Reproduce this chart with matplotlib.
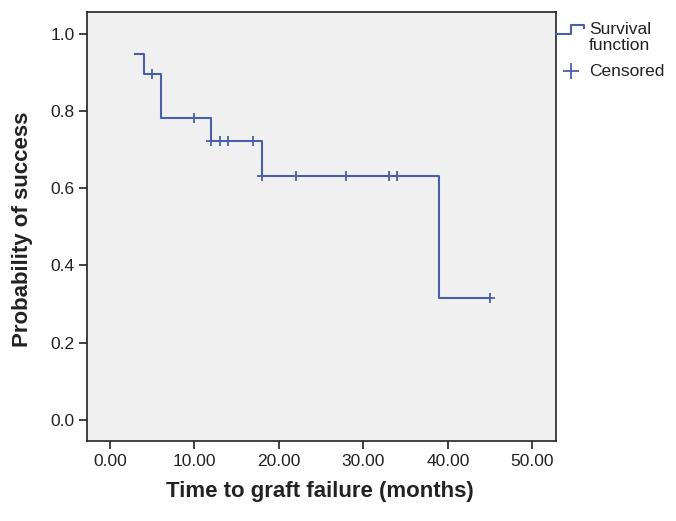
import numpy as np
import matplotlib.pyplot as plt
from matplotlib.lines import Line2D

plt.rcParams['font.family'] = ['Liberation Sans', 'DejaVu Sans']

# survival steps (time of event, survival after it)
step_time = [3, 4, 6, 12, 18, 39, 45]
step_surv = [0.947, 0.895, 0.783, 0.723, 0.633, 0.316, 0.316]
# censored cases
cens_time = [5, 10, 12, 13, 14, 17, 18, 22, 28, 33, 34, 45]
xticks = [0, 10, 20, 30, 40, 50]
yticks = [0.0, 0.2, 0.4, 0.6, 0.8, 1.0]

col = '#4a5fa8'
txt = '#222222'

fig = plt.figure(figsize=(6.76, 5.21), dpi=100)
ax = fig.add_axes([87/676, 80/521, 469/676, 429/521])
ax.set_facecolor('#f0f0f0')

ax.step(step_time, step_surv, where='post', color=col, lw=1.5)
# censored marks sit on the curve
cens_y = [step_surv[np.searchsorted(step_time, t, side='right') - 1] for t in cens_time]
ax.plot(cens_time, cens_y, ls='none', marker='+', ms=7.5, mew=1.3, color=col)

ax.set_xlim(-2.7, 52.8)
ax.set_ylim(-0.055, 1.057)
ax.set_xticks(xticks)
ax.set_xticklabels(['%.2f' % v for v in xticks])
ax.set_yticks(yticks)
ax.set_yticklabels(['%.1f' % v for v in yticks])
ax.tick_params(direction='out', length=6, width=1.2, color=txt, labelsize=12.5, labelcolor=txt, pad=3)
for s in ax.spines.values():
    s.set_linewidth(1.2)
    s.set_color(txt)

ax.set_xlabel('Time to graft failure (months)', fontsize=16, fontweight='bold', color=txt, va='center')
ax.set_ylabel('Probability of success', fontsize=16, fontweight='bold', color=txt, va='center')
ax.xaxis.set_label_coords((320 - 87) / 469, (441 - 491) / 429)
ax.yaxis.set_label_coords((23 - 87) / 469, (441 - 229) / 429)

# legend drawn by hand outside the axes
W, H = 676, 521
def fx(p): return p / W
def fy(p): return 1 - p / H
fig.add_artist(Line2D([fx(556), fx(571), fx(571), fx(584), fx(584)],
                      [fy(33.5), fy(33.5), fy(24.5), fy(24.5), fy(27.5)],
                      transform=fig.transFigure, color=col, lw=1.5))
fig.text(fx(589), fy(29), 'Survival', fontsize=12.5, va='center', color=txt)
fig.text(fx(589), fy(45), 'function', fontsize=12.5, va='center', color=txt)
fig.add_artist(Line2D([fx(571)], [fy(71)], transform=fig.transFigure, ls='none',
                      marker='+', ms=11, mew=1.3, color=col))
fig.text(fx(589), fy(71), 'Censored', fontsize=12.5, va='center', color=txt)

fig.savefig('out.png', dpi=100)
